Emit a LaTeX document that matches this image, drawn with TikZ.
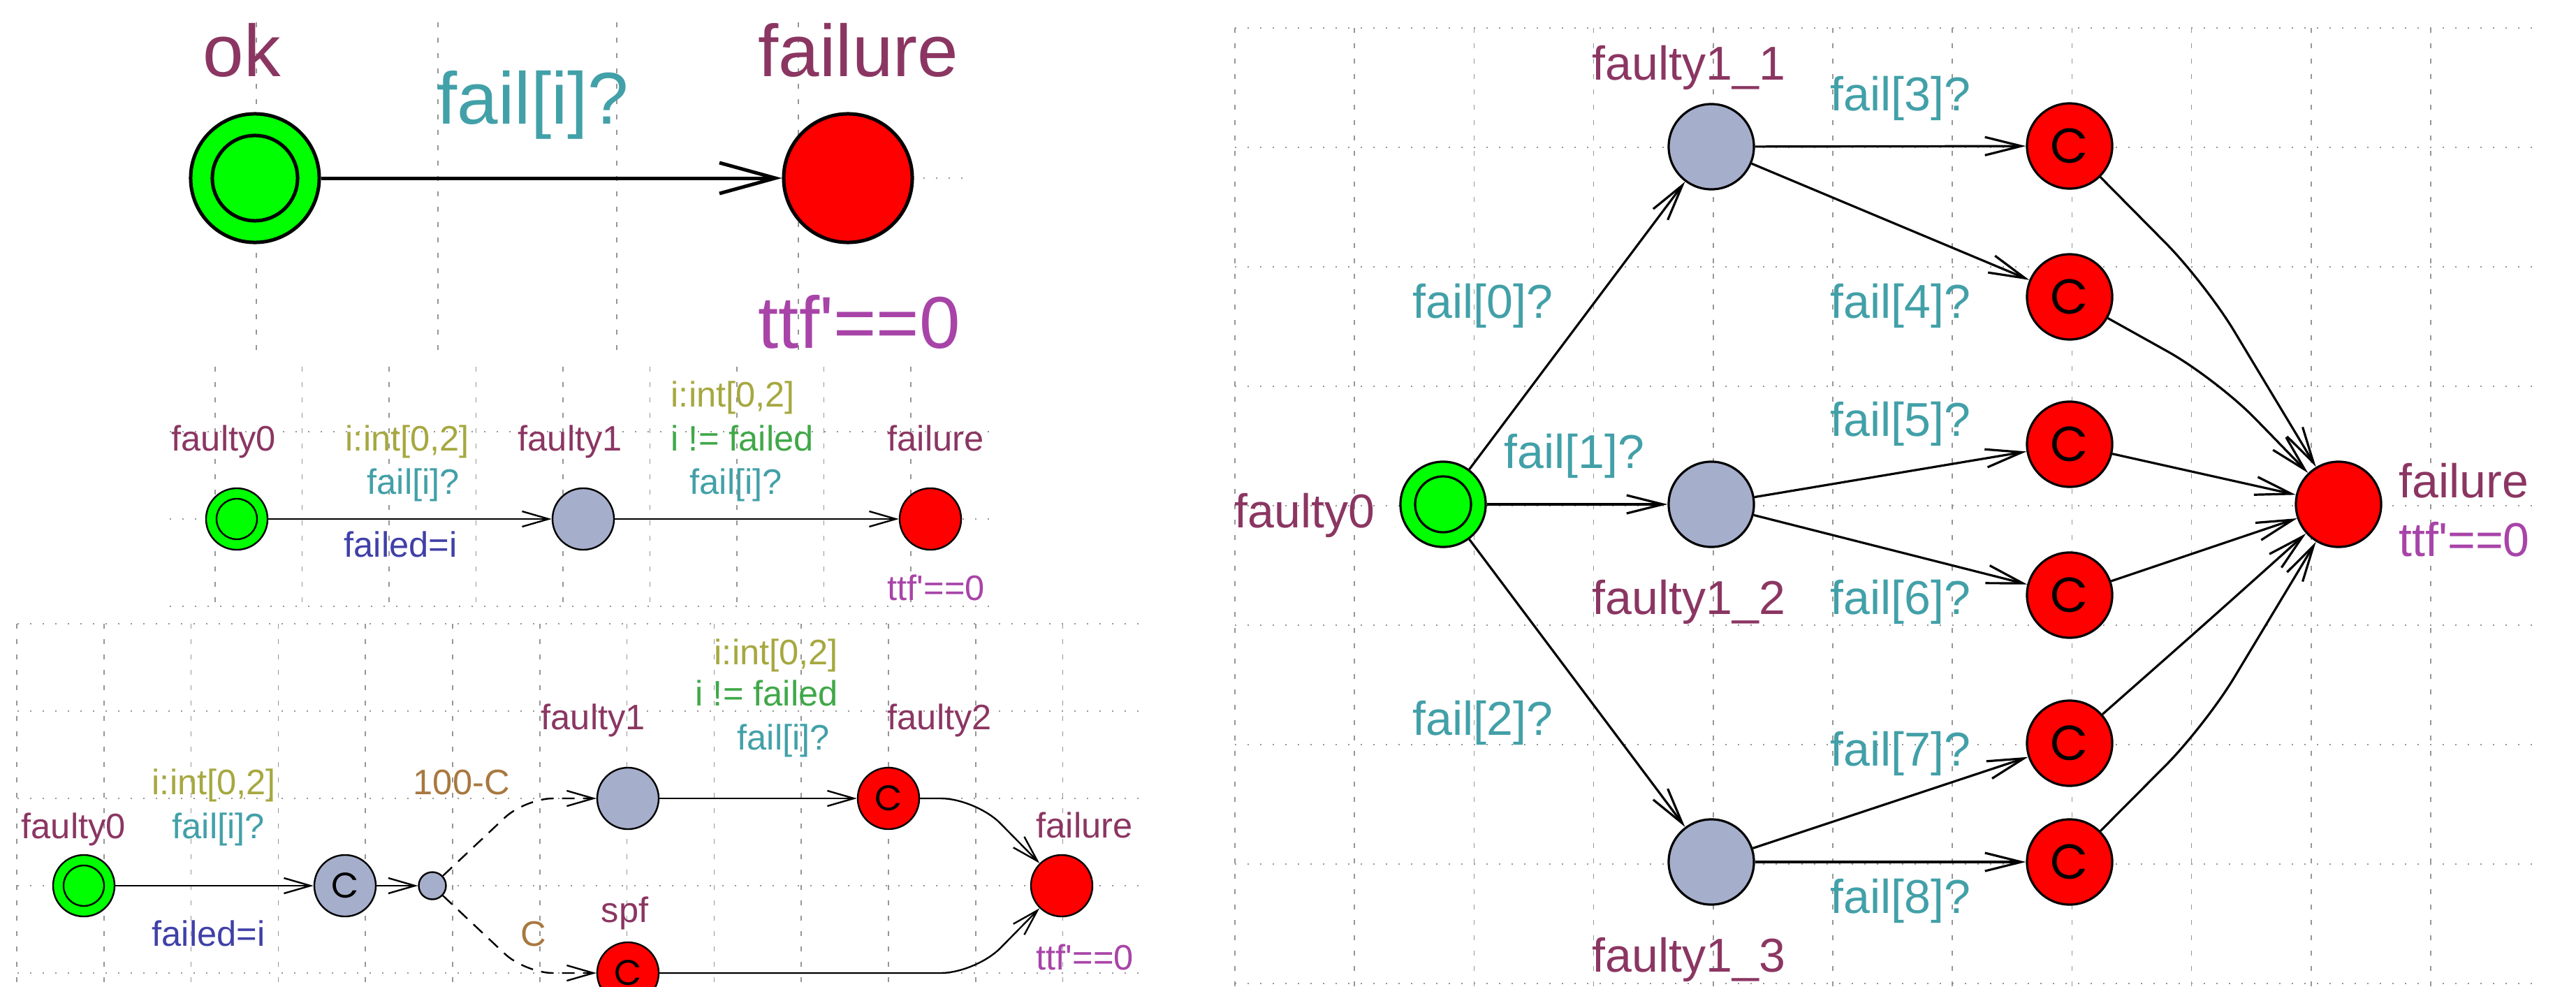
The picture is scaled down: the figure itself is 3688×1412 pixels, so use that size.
\documentclass[tikz,border=0pt]{standalone}
\usepackage{fontspec}
\setmainfont{Liberation Sans}
\newfontfamily\cfont{Poppins}
\usetikzlibrary{arrows.meta}

\definecolor{locname}{RGB}{139,54,98}
\definecolor{syncc}{RGB}{66,160,168}
\definecolor{selectc}{RGB}{166,168,64}
\definecolor{guardc}{RGB}{64,168,72}
\definecolor{updatec}{RGB}{64,64,168}
\definecolor{invc}{RGB}{168,68,168}
\definecolor{probc}{RGB}{168,120,64}
\definecolor{normloc}{RGB}{165,174,203}
\definecolor{gridc}{RGB}{150,150,150}
\definecolor{initfill}{RGB}{0,255,0}
\definecolor{redfill}{RGB}{255,0,0}

\tikzset{
  txt/.style={anchor=base west, inner sep=0pt},
  txtr/.style={anchor=base east, inner sep=0pt},
  fbig/.style={font=\fontsize{29.9pt}{32pt}\selectfont},
  fsml/.style={font=\fontsize{14.4pt}{16pt}\selectfont},
  fmid/.style={font=\fontsize{19.35pt}{21pt}\selectfont},
  gridv/.style={gridc, line width=0.15mm, dash pattern=on 0.7mm off 1.5mm},
  gridh/.style={gridc, line width=0.18mm, dash pattern=on 0.2mm off 1.6mm},
  locA/.style={circle, draw, inner sep=0pt, minimum size=18.4mm, line width=0.5mm},
  locB/.style={circle, draw, inner sep=0pt, minimum size=8.8mm, line width=0.24mm},
  locD/.style={circle, draw, inner sep=0pt, minimum size=12.2mm, line width=0.32mm},
  branchpt/.style={circle, draw, inner sep=0pt, minimum size=3.9mm, line width=0.24mm, fill=normloc},
  normal/.style={fill=normloc},
  redloc/.style={fill=redfill},
  start/.style={fill=initfill},
  ring/.style 2 args={path picture={\draw[line width=#2]
      (path picture bounding box.center) circle[radius=#1];}},
  commB/.style={font=\cfont\fontsize{14.5pt}{15pt}\selectfont},
  commD/.style={font=\cfont\fontsize{20pt}{20pt}\selectfont},
  e1/.style={line width=0.5mm, -{Straight Barb[length=8mm, width=4.4mm]}},
  e2/.style={line width=0.24mm, -{Straight Barb[length=3.8mm, width=2.2mm]}},
  e4/.style={line width=0.32mm, -{Straight Barb[length=5.2mm, width=2.6mm]}},
  probedge/.style={dash pattern=on 1.8mm off 1.2mm}
}

\begin{document}
\begin{tikzpicture}[x=0.01cm, y=-0.01cm]
\useasboundingbox (0,0) rectangle (3688,1412);
\fill[white] (0,0) rectangle (3688,1412);

% ---------- grids ----------
\foreach \x in {367,627,883,1143} \draw[gridv] (\x,32) -- (\x,516);
\draw[gridh] (367,255) -- (1385,255);

\foreach \k in {0,...,8} \draw[gridv] ({308+124.5*\k},525) -- ({308+124.5*\k},868);
\foreach \y in {618,743,868} \draw[gridh] (243,\y) -- (1425,\y);

\foreach \k in {0,...,12} \draw[gridv] ({24+124.8*\k},893) -- ({24+124.8*\k},1412);
\foreach \y in {893,1018,1143,1268,1393} \draw[gridh] (25,\y) -- (1645,\y);

\foreach \k in {0,...,10} \draw[gridv] ({1768+171.2*\k},40) -- ({1768+171.2*\k},1412);
\foreach \k in {0,...,8} \draw[gridh] (1768,{40+171*\k}) -- (3629,{40+171*\k});

% ---------- simple component ----------
\node[locA, start, ring={6.1mm}{0.5mm}] (ok) at (365,255) {};
\node[locA, redloc] (fa) at (1214,255) {};
\draw[e1] (ok) -- (fa);
\node[txt, fbig, locname] (okname) at (290,109) {ok};
\node[txt, fbig, locname] (faname) at (1085,109) {failure};
\node[txt, fbig, syncc] (fasync) at (625,177) {fail[i]?};
\node[txt, fbig, invc] (fainv) at (1085,498) {ttf\textquotesingle==0};

% ---------- two failures ----------
\node[locB, start, ring={2.9mm}{0.24mm}] (a0) at (339,743) {};
\node[locB, normal] (a1) at (835,743) {};
\node[locB, redloc] (a2) at (1332,743) {};
\draw[e2] (a0) -- (a1);
\draw[e2] (a1) -- (a2);
\node[txt, fsml, locname] (a0n) at (245,645) {faulty0};
\node[txt, fsml, locname] (a1n) at (741,645) {faulty1};
\node[txt, fsml, locname] (a2n) at (1270,645) {failure};
\node[txt, fsml, invc] (a2i) at (1270,859) {ttf\textquotesingle==0};
\node[txt, fsml, selectc] (a01s) at (494,645) {i:int[0,2]};
\node[txt, fsml, syncc] (a01y) at (525,707) {fail[i]?};
\node[txt, fsml, updatec] (a01u) at (492,797) {failed=i};
\node[txt, fsml, selectc] (a12s) at (960,582) {i:int[0,2]};
\node[txt, fsml, guardc] (a12g) at (960,645) {i != failed};
\node[txt, fsml, syncc] (a12y) at (987,707) {fail[i]?};

% ---------- single point of failure ----------
\node[locB, start, ring={2.9mm}{0.24mm}] (b0) at (120,1268) {};
\node[locB, normal, commB] (b1) at (494,1268) {C};
\node[branchpt] (b2) at (619,1268) {};
\node[locB, normal] (b3) at (899,1143) {};
\node[locB, redloc, commB] (b4) at (1272,1143) {C};
\node[locB, redloc, commB] (b5) at (899,1393) {C};
\node[locB, redloc] (b6) at (1520,1268) {};
\coordinate (nup) at (752,1143);
\coordinate (ndn) at (752,1393);
\coordinate (mup) at (1397,1143);
\coordinate (mdn) at (1397,1393);
\draw[e2] (b0) -- (b1);
\draw[e2] (b1) -- (b2);
\draw[e2, probedge, rounded corners=4mm] (b2) -- (nup) -- (b3);
\draw[e2, probedge, rounded corners=4mm] (b2) -- (ndn) -- (b5);
\draw[e2] (b3) -- (b4);
\draw[e2, rounded corners=5mm] (b4) -- (mup) -- (b6);
\draw[e2, rounded corners=5mm] (b5) -- (mdn) -- (b6);
\node[txt, fsml, locname] (b0n) at (30,1200) {faulty0};
\node[txt, fsml, selectc] (b01s) at (217,1137) {i:int[0,2]};
\node[txt, fsml, syncc] (b01y) at (246,1200) {fail[i]?};
\node[txt, fsml, updatec] (b01u) at (217,1354) {failed=i};
\node[txt, fsml, probc] (pw1) at (591,1137) {100-C};
\node[txt, fsml, probc] (pw2) at (745,1354) {C};
\node[txt, fsml, locname] (b3n) at (774,1044) {faulty1};
\node[txt, fsml, locname] (b5n) at (860,1320) {spf};
\node[txt, fsml, selectc] (b34s) at (1022,951) {i:int[0,2]};
\node[txt, fsml, guardc] (b34g) at (995,1010) {i != failed};
\node[txt, fsml, syncc] (b34y) at (1055,1073) {fail[i]?};
\node[txt, fsml, locname] (b4n) at (1270,1044) {faulty2};
\node[txt, fsml, locname] (b6n) at (1483,1199) {failure};
\node[txt, fsml, invc] (b6i) at (1483,1388) {ttf\textquotesingle==0};

% ---------- unrolled component ----------
\node[locD, start, ring={4.0mm}{0.32mm}] (d0) at (2066,722) {};
\node[locD, normal] (d1) at (2450,210) {};
\node[locD, normal] (d2) at (2450,722) {};
\node[locD, normal] (d3) at (2450,1234) {};
\node[locD, redloc, commD] (c3) at (2963,209) {C};
\node[locD, redloc, commD] (c4) at (2963,425) {C};
\node[locD, redloc, commD] (c5) at (2963,636) {C};
\node[locD, redloc, commD] (c6) at (2963,852) {C};
\node[locD, redloc, commD] (c7) at (2963,1064) {C};
\node[locD, redloc, commD] (c8) at (2963,1234) {C};
\node[locD, redloc] (df) at (3348,722) {};
\coordinate (k3) at (3157,405);
\coordinate (k4) at (3173,542);
\coordinate (k7) at (3157,893);
\coordinate (k8) at (3157,1039);

\draw[e4] (d0) -- (d1);
\draw[e4] (d0) -- (d2);
\draw[e4] (d0) -- (d3);
\draw[e4] (d1) -- (c3);
\draw[e4] (d1) -- (c4);
\draw[e4] (d2) -- (c5);
\draw[e4] (d2) -- (c6);
\draw[e4] (d3) -- (c7);
\draw[e4] (d3) -- (c8);
\draw[e4, rounded corners=8mm] (c3) -- (k3) -- (df);
\draw[e4, rounded corners=8mm] (c4) -- (k4) -- (df);
\draw[e4] (c5) -- (df);
\draw[e4] (c6) -- (df);
\draw[e4, rounded corners=8mm] (c7) -- (k7) -- (df);
\draw[e4, rounded corners=8mm] (c8) -- (k8) -- (df);

\node[txtr, fmid, locname] (d0n) at (1969,755) {faulty0};
\node[txt, fmid, locname] (d1n) at (2279,114) {faulty1\_1};
\node[txt, fmid, locname] (d2n) at (2279,879) {faulty1\_2};
\node[txt, fmid, locname] (d3n) at (2279,1391) {faulty1\_3};
\node[txt, fmid, locname] (dfn) at (3434,712) {failure};
\node[txt, fmid, invc] (dfi) at (3434,796) {ttf\textquotesingle==0};
\node[txt, fmid, syncc] (s0) at (2022,455) {fail[0]?};
\node[txt, fmid, syncc] (s1) at (2153,670) {fail[1]?};
\node[txt, fmid, syncc] (s2) at (2022,1052) {fail[2]?};
\node[txt, fmid, syncc] (s3) at (2620,158) {fail[3]?};
\node[txt, fmid, syncc] (s4) at (2620,455) {fail[4]?};
\node[txt, fmid, syncc] (s5) at (2620,624) {fail[5]?};
\node[txt, fmid, syncc] (s6) at (2620,879) {fail[6]?};
\node[txt, fmid, syncc] (s7) at (2620,1096) {fail[7]?};
\node[txt, fmid, syncc] (s8) at (2620,1307) {fail[8]?};
\end{tikzpicture}
\end{document}
